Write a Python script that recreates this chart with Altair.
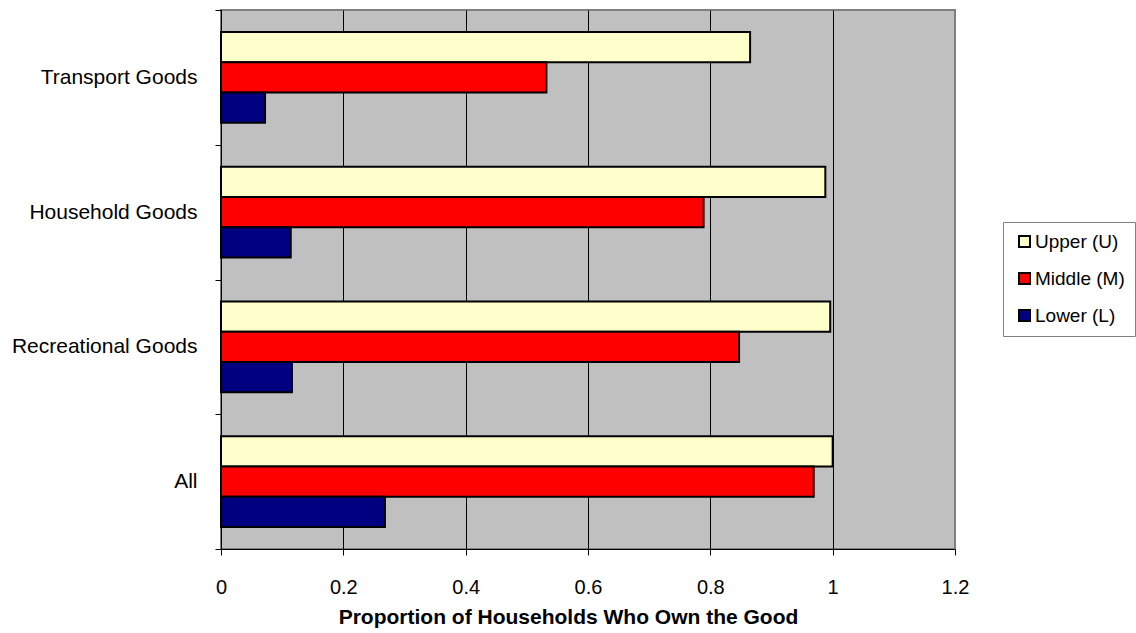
import altair as alt
import pandas as pd

# Ownership shares by good type and household class
goods = ["Transport Goods", "Household Goods", "Recreational Goods", "All"]
classes = ["Upper (U)", "Middle (M)", "Lower (L)"]
upper = [0.865, 0.988, 0.996, 1.0]
middle = [0.532, 0.789, 0.847, 0.969]
lower = [0.072, 0.114, 0.116, 0.268]
class_colors = ["#FFFFCC", "#FF0000", "#000080"]
x_ticks = [0, 0.2, 0.4, 0.6, 0.8, 1.0, 1.2]

rows = []
for cls, vals in zip(classes, [upper, middle, lower]):
    for good, v in zip(goods, vals):
        rows.append({"good": good, "cls": cls, "share": v})
df = pd.DataFrame(rows)

FONT = "Liberation Sans"

bars = alt.Chart(df).mark_bar(stroke="black", strokeWidth=2).encode(
    x=alt.X(
        "share:Q",
        scale=alt.Scale(domain=[0, 1.2], nice=False, zero=True),
        axis=alt.Axis(
            values=x_ticks,
            format="~g",
            title="Proportion of Households Who Own the Good",
            grid=True,
            gridColor={"condition": {"test": "datum.value >= 1.2", "value": "#808080"},
                       "value": "#000000"},
            gridWidth=1,
            domainColor="black",
            domainWidth=1,
            tickColor="black",
            tickSize=6,
            labelFontSize=20,
            labelPadding=22,
            labelFlush=False,
            labelColor="black",
            labelFont=FONT,
            titleFont=FONT,
            titleFontSize=21,
            titleFontWeight="bold",
            titleColor="black",
            titlePadding=9,
            titleX=347,
            titleAlign="center",
        ),
    ),
    y=alt.Y(
        "good:N",
        sort=goods,
        scale=alt.Scale(paddingInner=0, paddingOuter=0),
        axis=alt.Axis(
            title=None,
            tickBand="extent",
            grid=False,
            domainColor="black",
            domainWidth=1,
            tickColor="black",
            tickSize=6,
            labelFontSize=21,
            labelPadding=18,
            labelLimit=300,
            labelColor="black",
            labelFont=FONT,
        ),
    ),
    yOffset=alt.YOffset(
        "cls:N",
        sort=classes,
        scale=alt.Scale(paddingInner=0, paddingOuter=0.7236),
    ),
    color=alt.Color(
        "cls:N",
        sort=classes,
        scale=alt.Scale(domain=classes, range=class_colors),
        legend=alt.Legend(
            title=None,
            orient="none",
            legendX=782,
            legendY=212,
            padding=10,
            strokeColor="#808080",
            fillColor="white",
            symbolType="square",
            symbolSize=121,
            symbolStrokeColor="black",
            symbolStrokeWidth=2,
            symbolOffset=2,
            labelOffset=1,
            labelFontSize=19,
            labelFont=FONT,
            labelColor="black",
            rowPadding=17,
            labelExpr="datum.label + '\u00a0\u00a0\u00a0'",
        ),
    ),
)

chart = bars.properties(
    width=734,
    height=539,
    autosize=alt.AutoSizeParams(type="none"),
    padding={"left": 221, "top": 10, "right": 181, "bottom": 84},
    background="white",
).configure_view(
    fill="#C0C0C0",
    stroke="#808080",
    strokeWidth=2,
)

chart.save("out.html", embed_options={"renderer": "svg", "actions": False})
